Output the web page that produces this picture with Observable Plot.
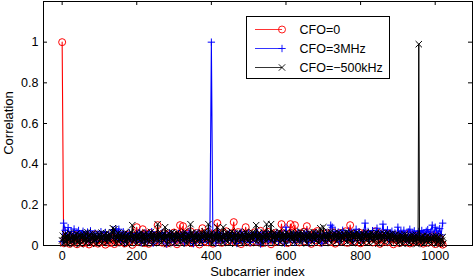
<!DOCTYPE html>
<html><head><meta charset="utf-8">
<script src="https://cdn.jsdelivr.net/npm/d3@7"></script>
<script src="https://cdn.jsdelivr.net/npm/@observablehq/plot@0.6"></script>
<style>body{margin:0;background:#fff;overflow:hidden}</style>
</head><body><div id="chart"></div>
<script>
// Subcarrier indices
const subcarriersBy4 = d3.range(0, 1024, 4);
const subcarriersBy2 = d3.range(0, 1024, 2);

// Correlation, CFO = 0 (peak at subcarrier 0), every 4th subcarrier
const corrCfo0 = [
1, .012, .034, .021, .045, .008, .027, .039, .015, .052, .006, .031, .024, .043, .011, .036,
.019, .048, .005, .029, .041, .014, .055, .022, .009, .037, .046, .018, .03, .004, .05, .026,
.013, .042, .033, .007, .058, .021, .035, .016, .047, .028, .01, .053, .038, .02, .044, .003,
.031, .049, .09, .017, .036, .025, .08, .012, .057, .04, .008, .062, .027, .045, .019, .051,
.1, .023, .048, .014, .06, .034, .009, .055, .029, .042, .018, .064, .037, .006, .05, .1,
.026, .095, .041, .015, .058, .032, .07, .011, .047, .024, .061, .038, .005, .053, .085, .02,
.044, .016, .067, .03, .052, .009, .039, .058, .11, .025, .046, .013, .063, .035, .07, .021,
.05, .028, .061, .115, .017, .043, .066, .032, .007, .054, .039, .09, .022, .059, .014, .048,
.036, .065, .019, .051, .029, .072, .011, .044, .058, .025, .067, .038, .006, .055, .031, .062,
.018, .049, .034, .105, .023, .06, .041, .012, .056, .105, .03, .064, .1, .027, .045, .015,
.059, .037, .068, .021, .095, .033, .052, .008, .047, .063, .026, .071, .039, .014, .057, .042,
.024, .061, .035, .05, .017, .066, .04, .009, .054, .031, .062, .02, .048, .036, .07, .013,
.045, .1, .028, .058, .019, .052, .037, .064, .011, .049, .03, .06, .022, .046, .033, .055,
.015, .042, .07, .026, .053, .008, .039, .061, .024, .048, .016, .057, .032, .044, .006, .051,
.027, .043, .012, .055, .035, .02, .049, .031, .058, .01, .041, .025, .053, .017, .046, .038,
.022, .05, .009, .044, .033, .056, .015, .04, .028, .052, .007, .047, .019, .036, .011, .004
];

// Correlation, CFO = 3 MHz (peak at subcarrier 400), every 4th subcarrier
const corrCfo3MHz = [
.02, .11, .075, .04, .088, .052, .069, .03, .081, .045, .062, .074, .035, .058, .07, .041,
.049, .066, .027, .072, .055, .038, .061, .02, .057, .043, .068, .031, .05, .064, .024, .053,
.036, .06, .078, .046, .082, .058, .08, .03, .052, .067, .018, .055, .041, .063, .029, .05,
.044, .026, .059, .037, .065, .015, .048, .033, .061, .022, .054, .04, .068, .011, .047, .035,
.057, .02, .043, .064, .029, .051, .008, .046, .062, .031, .055, .017, .049, .038, .06, .024,
.041, .058, .013, .052, .034, .066, .022, .047, .009, .056, .037, .061, .027, .044, .016, .053,
.032, .059, .021, .045, 1, .038, .054, .012, .048, .063, .026, .041, .057, .019, .05, .035,
.061, .024, .047, .033, .058, .01, .052, .039, .066, .02, .044, .055, .029, .06, .015, .049,
.037, .053, .022, .064, .041, .007, .056, .031, .048, .068, .018, .045, .059, .026, .051, .034,
.062, .02, .049, .036, .057, .012, .09, .043, .027, .061, .038, .054, .016, .047, .065, .03,
.052, .023, .059, .04, .067, .014, .048, .033, .056, .021, .062, .045, .028, .058, .011, .05,
.036, .063, .025, .054, .1, .09, .042, .07, .031, .066, .019, .057, .075, .044, .06, .028,
.071, .039, .064, .022, .058, .08, .035, .067, .048, .026, .062, .11, .044, .069, .03, .056,
.073, .041, .06, .085, .032, .068, .05, .105, .038, .064, .077, .027, .059, .07, .046, .062,
.035, .09, .057, .068, .043, .075, .052, .028, .066, .08, .047, .061, .072, .039, .058, .069,
.05, .074, .063, .041, .07, .078, .056, .066, .1, .048, .09, .071, .06, .083, .052, .11
];

// Correlation, CFO = -500 kHz (peak near subcarrier 956), every 2nd subcarrier
const corrCfoM500kHz = [
.025, .048, .011, .039, .056, .018, .043, .007, .051, .029, .062, .014, .037, .053, .021, .045,
.009, .047, .031, .058, .016, .041, .052, .024, .006, .049, .035, .057, .019, .044, .028, .061,
.013, .038, .065, .022, .046, .055, .01, .042, .033, .059, .017, .05, .027, .054, .008, .043,
.036, .057, .02, .048, .031, .063, .012, .045, .052, .026, .039, .06, .015, .047, .034, .056,
.023, .05, .041, .064, .085, .029, .08, .046, .011, .055, .037, .062, .018, .049, .03, .058,
.044, .014, .053, .036, .061, .021, .047, .007, .057, .032, .05, .024, .066, .039, .1, .019,
.052, .028, .045, .06, .012, .049, .035, .058, .022, .043, .064, .016, .051, .031, .056, .009,
.04, .062, .025, .048, .055, .017, .044, .067, .03, .053, .011, .046, .059, .027, .05, .036,
.105, .021, .056, .042, .063, .014, .048, .033, .059, .026, .09, .038, .052, .007, .045, .061,
.018, .054, .037, .065, .024, .047, .058, .012, .05, .034, .062, .029, .043, .056, .015, .048,
.039, .06, .023, .051, .068, .031, .045, .009, .057, .036, .052, .019, .105, .041, .063, .026,
.049, .013, .055, .038, .061, .022, .046, .057, .028, .05, .016, .064, .035, .053, .042, .07,
.024, .058, .033, .047, .105, .019, .052, .04, .063, .011, .049, .056, .027, .044, .06, .034,
.09, .02, .054, .041, .065, .029, .046, .013, .09, .037, .058, .024, .05, .062, .017, .045,
.032, .057, .043, .069, .021, .05, .036, .059, .008, .047, .055, .026, .063, .039, .052, .018,
.046, .061, .03, .053, .015, .048, .067, .035, .056, .022, .044, .058, .012, .051, .038, .064,
.027, .049, .06, .041, .1, .019, .055, .033, .062, .045, .025, .053, .01, .047, .066, .036,
.052, .021, .105, .039, .057, .03, .048, .064, .105, .024, .05, .037, .061, .014, .046, .055,
.031, .059, .043, .068, .018, .052, .036, .06, .026, .047, .056, .011, .049, .063, .034, .045,
.057, .023, .05, .038, .065, .029, .054, .016, .046, .061, .033, .052, .02, .058, .04, .069,
.015, .048, .062, .035, .053, .024, .044, .059, .01, .051, .037, .063, .028, .047, .056, .019,
.042, .066, .031, .054, .022, .06, .039, .048, .013, .057, .085, .035, .05, .026, .09, .044,
.058, .017, .049, .036, .063, .025, .052, .041, .067, .012, .046, .055, .03, .061, .038, .053,
.021, .05, .064, .033, .045, .058, .014, .048, .037, .06, .027, .052, .043, .066, .018, .054,
.035, .059, .024, .047, .062, .011, .053, .04, .057, .029, .049, .064, .019, .045, .055, .032,
.051, .023, .06, .038, .016, .054, .042, .065, .027, .048, .058, .013, .05, .036, .062, .025,
.044, .057, .02, .052, .039, .063, .031, .047, .009, .055, .041, .059, .024, .049, .035, .06,
.017, .053, .046, .028, .061, .037, .05, .014, .056, .032, .044, .058, .022, .048, .039, .054,
.026, .045, .012, .041, .052, .019, .038, .05, .008, .043, .031, .055, .016, .047, .034, .025,
.044, .011, .039, .048, .022, .036, .051, .015, .042, .029, .053, .007, .046, .033, .99, .018,
.037, .013, .044, .026, .048, .009, .035, .041, .02, .046, .031, .014, .043, .027, .038, .01,
.034, .045, .019, .04, .028, .047, .012, .036, .042, .021, .039, .006, .033, .024, .041, .009
];

const seriesNames = ["CFO=0", "CFO=3MHz", "CFO=\u2212500kHz"];
const seriesColors = ["#ff0000", "#0000ff", "#000000"];
const seriesSymbols = ["circle", "plus", "times"];
const seriesValues = [corrCfo0, corrCfo3MHz, corrCfoM500kHz];
const seriesIndex = [subcarriersBy4, subcarriersBy4, subcarriersBy2];
const xTicks = [0, 200, 400, 600, 800, 1000];
const yTicks = [0, 0.2, 0.4, 0.6, 0.8, 1];

const W = 474, H = 279;
const mL = 43, mR = 2, mT = 1, mB = 34;
const innerW = W - mL - mR, innerH = H - mT - mB;
const tk = 4;
const symR = [3.5, 2.5, 3];
const lineW = [1.1, 1.1, 1.0];

const series = seriesValues.map((vals, s) =>
  seriesIndex[s].map((x, i) => ({x, y: vals[i], s})));

const marks = [
  Plot.frame({stroke: "#000", strokeWidth: 1}),
  Plot.tickX(xTicks, {x: d => d, stroke: "#000", insetTop: innerH - tk}),
  Plot.tickX(xTicks, {x: d => d, stroke: "#000", insetBottom: innerH - tk}),
  Plot.tickY(yTicks, {y: d => d, stroke: "#000", insetRight: innerW - tk}),
  Plot.tickY(yTicks, {y: d => d, stroke: "#000", insetLeft: innerW - tk}),
  Plot.axisX({ticks: xTicks, tickSize: 0, tickPadding: 6, fontSize: 12.5, tickFormat: d => String(d),
    label: null}),
  Plot.axisY({ticks: yTicks, tickSize: 0, tickPadding: 5, fontSize: 12.5, tickFormat: d => String(d),
    label: null})
];
series.forEach((data, s) => {
  marks.push(Plot.line(data, {x: "x", y: "y", stroke: seriesColors[s], strokeWidth: lineW[s]}));
  marks.push(Plot.dot(data, {x: "x", y: "y", symbol: () => seriesSymbols[s], r: symR[s],
    stroke: seriesColors[s], fill: "none", strokeWidth: 1}));
});

const chart = Plot.plot({
  width: W, height: H,
  marginLeft: mL, marginRight: mR, marginTop: mT, marginBottom: mB,
  style: {fontFamily: "'Liberation Sans', Arial, Helvetica, sans-serif", fontSize: "12.5px", background: "#fff", color: "#000"},
  symbol: {domain: seriesSymbols, range: seriesSymbols},
  x: {domain: [-50, 1100]},
  y: {domain: [0, 1.2]},
  marks
});
document.getElementById("chart").appendChild(chart);

// Axis titles and legend drawn in pixel space
const svg = d3.select(chart);
svg.append("text").attr("x", mL + innerW / 2).attr("y", 276)
  .attr("text-anchor", "middle").attr("font-size", 13).attr("fill", "#000").text("Subcarrier index");
svg.append("text").attr("transform", `translate(13,${mT + innerH / 2}) rotate(-90)`)
  .attr("text-anchor", "middle").attr("font-size", 13).attr("fill", "#000").text("Correlation");

const lg = svg.append("g").attr("transform", "translate(246.5,16.5)");
lg.append("rect").attr("width", 143).attr("height", 62).attr("fill", "#fff").attr("stroke", "#000");
seriesNames.forEach((name, s) => {
  const y = 13 + s * 19;
  lg.append("line").attr("x1", 8.5).attr("x2", 35.5).attr("y1", y).attr("y2", y)
    .attr("stroke", seriesColors[s]).attr("stroke-width", 0.8);
  const sym = {circle: d3.symbolCircle, plus: d3.symbolPlus, times: d3.symbolTimes}[seriesSymbols[s]];
  lg.append("path").attr("d", d3.symbol(sym, Math.PI * symR[s] * symR[s])())
    .attr("transform", `translate(35.5,${y})`).attr("fill", "none")
    .attr("stroke", seriesColors[s]).attr("stroke-width", 0.9);
  lg.append("text").attr("x", 53).attr("y", y).attr("dy", "0.36em").attr("text-anchor", "start")
    .attr("font-size", 12.5).attr("fill", "#000").text(name);
});
</script></body></html>
